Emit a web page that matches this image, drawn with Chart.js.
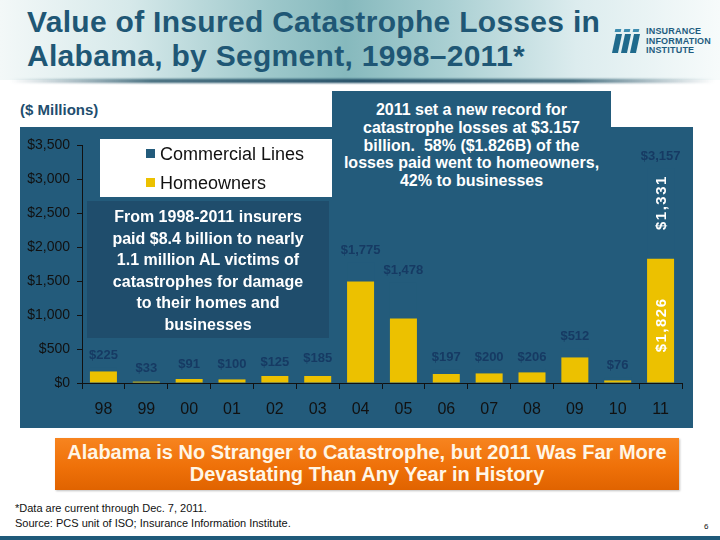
<!DOCTYPE html>
<html>
<head>
<meta charset="utf-8">
<script src="https://cdn.jsdelivr.net/npm/chart.js@4/dist/chart.umd.min.js"></script>
<style>
  html, body { margin: 0; padding: 0; }
  body { width: 720px; height: 540px; position: relative; overflow: hidden; background: #fff;
         font-family: "Liberation Sans", Arial, sans-serif; }
  .abs { position: absolute; }
  #titleBg { left: 0; top: 0; width: 720px; height: 80px;
    background: linear-gradient(90deg, #f3f8f8 0%, #d6e9ea 18%, #9cc7ca 38%, #86b9bd 48%, #a9cfd2 62%, #dcecee 80%, #f7fbfb 100%); }
  #titleShadow { left: 10px; top: 79px; width: 705px; height: 4px;
    background: linear-gradient(90deg, rgba(31,80,100,0) 0%, rgba(31,80,100,0.85) 20%, rgba(25,70,95,1) 50%, rgba(31,80,100,0.85) 80%, rgba(31,80,100,0) 100%);
    filter: blur(1px); }
  #title { left: 27px; top: 5px; color: #1f5775; font-weight: bold; font-size: 30px; line-height: 34px; letter-spacing: 0.3px; }
  #logo { left: 612px; top: 27px; width: 100px; height: 28px; }
  .stripe { position: absolute; width: 6px; background: #1f6a8c; transform: skewX(-12deg); }
  .dot { position: absolute; width: 6px; height: 3px; background: #3e8db0; transform: skewX(-12deg); }
  #logoText { left: 34px; top: 0; font-weight: bold; font-size: 9px; line-height: 9.5px; color: #1f5d80; letter-spacing: 0.2px; }
  #millions { left: 20px; top: 101px; font-weight: bold; font-size: 15px; color: #1f4e6e; }
  #panel { left: 20px; top: 127px; width: 673px; height: 301px; background: #235b7b; }
  #note2011 { left: 332px; top: 91px; width: 279px; height: 108px; background: #235b7b;
    color: #fff; font-weight: bold; font-size: 16px; line-height: 17.8px; text-align: center; padding-top: 10px; box-sizing: border-box; }
  #legend { left: 100px; top: 139px; width: 232px; height: 58px; background: #fff; }
  .lg { position: absolute; left: 46px; font-size: 18px; color: #111; line-height: 20px; }
  .sw { display: inline-block; width: 9px; height: 9px; margin-right: 5px; vertical-align: 2px; }
  #insight { left: 87px; top: 201px; width: 242px; height: 137px; background: #1f4d6c;
    color: #fff; font-weight: bold; font-size: 16px; line-height: 21.5px; text-align: center; padding-top: 5px; box-sizing: border-box; }
  #banner { left: 55px; top: 438px; width: 624px; height: 52px;
    background: linear-gradient(180deg, #f7841f 0%, #ef7109 55%, #e06300 100%);
    color: #fff6e6; font-weight: bold; font-size: 20px; line-height: 22px; text-align: center; padding-top: 3px; box-sizing: border-box;
    box-shadow: 1px 1px 2px rgba(0,0,0,0.25); }
  #foot { left: 15px; top: 501px; font-size: 11px; line-height: 15px; color: #111; }
  #pageNo { left: 704px; top: 522px; font-size: 8px; color: #111; }
  #bottomBar { left: 0; top: 536px; width: 720px; height: 4px; background: #1f5a7a; }
</style>
</head>
<body>
<div id="titleBg" class="abs"></div>
<div id="titleShadow" class="abs"></div>
<div id="title" class="abs">Value of Insured Catastrophe Losses in<br>Alabama, by Segment, 1998–2011*</div>
<div id="logo" class="abs">
  <div class="dot" style="left:3px;top:2px"></div>
  <div class="dot" style="left:12px;top:2px"></div>
  <div class="dot" style="left:21px;top:2px"></div>
  <div class="stripe" style="left:2px;top:7px;height:19px"></div>
  <div class="stripe" style="left:11px;top:7px;height:19px"></div>
  <div class="stripe" style="left:20px;top:7px;height:19px"></div>
  <div id="logoText" class="abs">INSURANCE<br>INFORMATION<br>INSTITUTE</div>
</div>
<div id="millions" class="abs">($ Millions)</div>

<div id="panel" class="abs"><canvas id="chartMain" width="673" height="301"></canvas></div>

<div id="note2011" class="abs">2011 set a new record for<br>catastrophe losses at $3.157<br>billion.&nbsp; 58% ($1.826B) of the<br>losses paid went to homeowners,<br>42% to businesses</div>

<div id="legend" class="abs">
  <div class="lg" style="top:5px"><span class="sw" id="swCom"></span>Commercial Lines</div>
  <div class="lg" style="top:34px"><span class="sw" id="swHome"></span>Homeowners</div>
</div>

<div id="insight" class="abs">From 1998-2011 insurers<br>paid $8.4 billion to nearly<br>1.1 million AL victims of<br>catastrophes for damage<br>to their homes and<br>businesses</div>

<div id="banner" class="abs">Alabama is No Stranger to Catastrophe, but 2011 Was Far More<br>Devastating Than Any Year in History</div>

<div id="foot" class="abs">*Data are current through Dec. 7, 2011.<br>Source: PCS unit of ISO; Insurance Information Institute.</div>
<div id="pageNo" class="abs">6</div>
<div id="bottomBar" class="abs"></div>

<script>
// =========================
//  Data
// =========================

const years = ["98", "99", "00", "01", "02", "03", "04", "05", "06", "07", "08", "09", "10", "11"];
const homeowners = [170, 20, 59, 53, 103, 103, 1492, 949, 132, 141, 156, 376, 38, 1826];
const commercial = [55, 13, 32, 47, 22, 82, 283, 529, 65, 59, 50, 136, 38, 1331];
const totals = [225, 33, 91, 100, 125, 185, 1775, 1478, 197, 200, 206, 512, 76, 3157];
const segmentLabelYears = ["11"];

const yTicks = [0, 500, 1000, 1500, 2000, 2500, 3000, 3500];

const colHome = "#ecc100";
const colCom = "#235b7b";
const colLabel = "#163a63";
const FONT = "'Liberation Sans', Arial, sans-serif";

document.getElementById("swCom").style.background = colCom;
document.getElementById("swHome").style.background = colHome;

function money(v) {
  return "$" + v.toLocaleString("en-US");
}


// =========================
//  Value labels plugin
// =========================

const valueLabels = {
  id: "valueLabels",
  afterDatasetsDraw(chart) {
    const ctx = chart.ctx;
    const y = chart.scales.y;
    const metaHome = chart.getDatasetMeta(0);
    const metaCom = chart.getDatasetMeta(1);
    ctx.save();
    ctx.textAlign = "center";
    ctx.textBaseline = "middle";

    totals.forEach((t, i) => {
      const x = metaHome.data[i].x;
      ctx.fillStyle = colLabel;
      ctx.font = "bold 13px " + FONT;
      ctx.fillText(money(t), x, y.getPixelForValue(t) - 12);

      if (segmentLabelYears.includes(years[i])) {
        ctx.fillStyle = "#ffffff";
        ctx.font = "bold 15px " + FONT;
        ctx.letterSpacing = "1.5px";
        const segs = [
          [homeowners[i], (y.getPixelForValue(0) + metaHome.data[i].y) / 2 + 4],
          [commercial[i], (metaHome.data[i].y + metaCom.data[i].y) / 2 - 11],
        ];
        for (const [v, cy] of segs) {
          ctx.save();
          ctx.translate(x + 1, cy);
          ctx.rotate(-Math.PI / 2);
          ctx.fillText(money(v), 0, 0);
          ctx.restore();
        }
        ctx.letterSpacing = "0px";
      }
    });
    ctx.restore();
  }
};


// =========================
//  Chart
// =========================

const ctx = document.getElementById("chartMain").getContext("2d");

new Chart(ctx, {
  type: "bar",
  data: {
    labels: years,
    datasets: [
      { label: "Homeowners", data: homeowners, backgroundColor: colHome },
      { label: "Commercial Lines", data: commercial, backgroundColor: colCom },
    ],
  },
  options: {
    responsive: false,
    animation: false,
    devicePixelRatio: 1,
    categoryPercentage: 0.63,
    barPercentage: 1.0,
    layout: { padding: { top: 18, right: 11, left: 0, bottom: 0 } },
    plugins: {
      legend: { display: false },
      tooltip: { enabled: false },
    },
    scales: {
      x: {
        stacked: true,
        grid: { drawOnChartArea: false, drawTicks: true, tickLength: 6, color: "#111", offset: true },
        border: { color: "#111", width: 1 },
        ticks: { color: "#111", font: { family: FONT, size: 16 }, padding: 11, maxRotation: 0 },
        afterFit: (s) => { s.height = 45; },
      },
      y: {
        stacked: true,
        min: 0,
        max: 3500,
        afterBuildTicks: (s) => { s.ticks = yTicks.map(v => ({ value: v })); },
        grid: { drawOnChartArea: false, drawTicks: true, tickLength: 5, color: "#111" },
        border: { color: "#111", width: 1 },
        ticks: { color: "#111", font: { family: FONT, size: 14 }, padding: 7, callback: (v) => money(v) },
        afterFit: (s) => { s.width = 62; },
      },
    },
  },
  plugins: [valueLabels],
});
</script>
</body>
</html>
